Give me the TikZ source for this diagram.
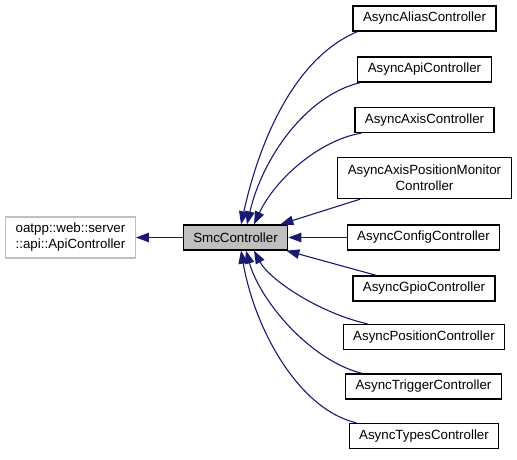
\documentclass[tikz,border=0pt]{standalone}
\usepackage{fontspec}
\setmainfont{Liberation Sans}
\usetikzlibrary{arrows.meta}
\definecolor{edgeblue}{HTML}{191970}
\definecolor{boxgray}{HTML}{BFBFBF}

\begin{document}
\begin{tikzpicture}[x=1pt,y=-1pt,
  cls/.style={draw=black,line width=1.3pt,shape=rectangle,inner xsep=10pt,minimum height=25pt,
    font=\fontsize{13.33}{16}\selectfont},
  cls2/.style={cls,align=center,minimum height=41pt},
  inh/.style={{Triangle[length=13pt,width=9.5pt]}-,draw=edgeblue,line width=1.1pt}]
  %\draw[step=50,gray,very thin] (0,0) grid (517,459);
  \useasboundingbox (0,0) rectangle (517,459);
  \node[cls2,draw=boxgray] (ApiCtl) at (70.5,237.5) {oatpp::web::server\\::api::ApiController};
  \node[cls,fill=boxgray] (Smc) at (235.5,237.5) {SmcController};
  \node[cls] (Alias) at (424.5,18.5) {AsyncAliasController};
  \node[cls] (Api) at (424.5,69.5) {AsyncApiController};
  \node[cls] (Axis) at (424.5,120) {AsyncAxisController};
  \node[cls2] (AxisMon) at (424.5,178) {AsyncAxisPositionMonitor\\Controller};
  \node[cls] (Config) at (423.5,237.5) {AsyncConfigController};
  \node[cls] (Gpio) at (424,288.5) {AsyncGpioController};
  \node[cls] (Pos) at (424,337) {AsyncPositionController};
  \node[cls] (Trig) at (423.5,386.5) {AsyncTriggerController};
  \node[cls] (Types) at (424,436) {AsyncTypesController};
  \draw[inh] (ApiCtl) -- (Smc);
  \draw[inh] ([xshift=5.5pt]Smc.north) .. controls +(20,-90) and +(-60,25) .. ([xshift=5pt]Alias.south west);
  \draw[inh] ([xshift=11.5pt]Smc.north) .. controls +(15,-65) and +(-55,13) .. ([xshift=3pt]Api.south west);
  \draw[inh] ([xshift=18.5pt]Smc.north) .. controls +(21,-45) and +(-42,7) .. ([xshift=7pt]Axis.south west);
  \draw[inh] ([xshift=-8pt]Smc.north east) -- ([xshift=23pt]AxisMon.south west);
  \draw[inh] (Smc) -- (Config);
  \draw[inh] ([xshift=-2pt]Smc.south east) -- ([xshift=24pt]Gpio.north west);
  \draw[inh] ([xshift=18.5pt]Smc.south) .. controls +(16,30) and +(-46,-10) .. ([xshift=25pt]Pos.north west);
  \draw[inh] ([xshift=10.5pt]Smc.south) .. controls +(14,50) and +(-52,-13) .. ([xshift=17pt]Trig.north west);
  \draw[inh] ([xshift=5.5pt]Smc.south) .. controls +(14,80) and +(-57,-13) .. ([xshift=8pt]Types.north west);
\end{tikzpicture}
\end{document}
